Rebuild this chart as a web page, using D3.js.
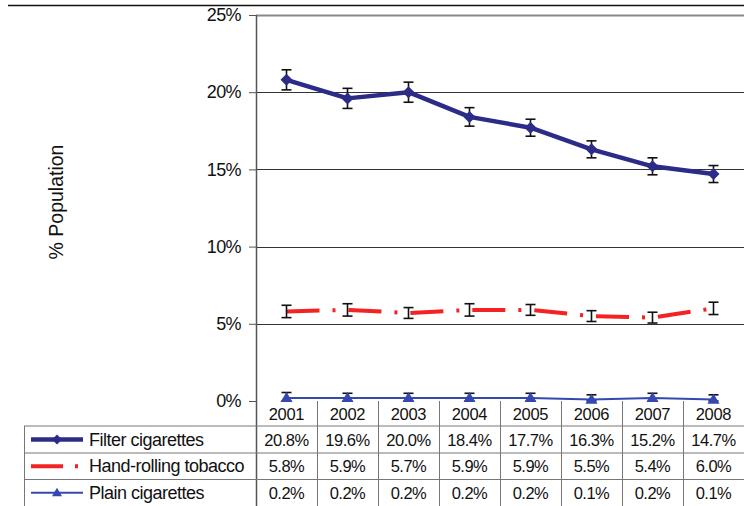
<!DOCTYPE html>
<html>
<head>
<meta charset="utf-8">
<script src="https://cdn.jsdelivr.net/npm/d3@7"></script>
<style>
  body { margin: 0; background: #fff; }
  svg { display: block; font-family: "Liberation Sans", Arial, sans-serif; }
</style>
</head>
<body>
<svg id="chart" width="744" height="506"></svg>
<script>
const years = ['2001', '2002', '2003', '2004', '2005', '2006', '2007', '2008']
const filterVals = [20.8, 19.6, 20.0, 18.4, 17.7, 16.3, 15.2, 14.7]
const handVals = [5.8, 5.9, 5.7, 5.9, 5.9, 5.5, 5.4, 6.0]
const plainVals = [0.2, 0.2, 0.2, 0.2, 0.2, 0.1, 0.2, 0.1]
const filterErr = [0.65, 0.65, 0.65, 0.6, 0.55, 0.55, 0.55, 0.55]
const handErr = [0.4, 0.4, 0.35, 0.4, 0.35, 0.35, 0.35, 0.4]
const plainErr = [0.35, 0.3, 0.3, 0.3, 0.3, 0.3, 0.3, 0.3]
const yTicks = [0, 5, 10, 15, 20, 25]

const series = [
  { name: 'Filter cigarettes', values: filterVals, err: filterErr, color: '#2c2c88', width: 4.5, dash: null, marker: 'diamond' },
  { name: 'Hand-rolling tobacco', values: handVals, err: handErr, color: '#f42222', width: 4, dash: '33,13,3,13', marker: null },
  { name: 'Plain cigarettes', values: plainVals, err: plainErr, color: '#3548b0', width: 2, dash: null, marker: 'triangle' }
]

const svg = d3.select('#chart')
const plotLeft = 256
const plotRight = 744
const plotTop = 15
const plotBottom = 401
const rowEdges = [401, 426, 453, 479.5, 506]

const x = d3.scaleBand().domain(years).range([plotLeft, plotRight])
const y = d3.scaleLinear().domain([0, 25]).range([plotBottom, plotTop])
const cx = d => x(d) + x.bandwidth() / 2

// top border line
svg.append('line')
  .attr('x1', 8).attr('x2', 744).attr('y1', 5.5).attr('y2', 5.5)
  .attr('stroke', '#111').attr('stroke-width', 1.5)

// gridlines
svg.append('g').selectAll('line').data(yTicks.filter(t => t > 0)).join('line')
  .attr('x1', plotLeft).attr('x2', plotRight)
  .attr('y1', d => Math.round(y(d)) + 0.5).attr('y2', d => Math.round(y(d)) + 0.5)
  .attr('stroke', d => d === 25 ? '#888' : '#333').attr('stroke-width', d => d === 25 ? 2 : 1)

// y axis
const yAxis = d3.axisLeft(y).tickValues(yTicks).tickFormat(d => d + '%').tickSize(7).tickPadding(8)
const ga = svg.append('g').attr('transform', `translate(${plotLeft},0)`).call(yAxis)
ga.select('.domain').remove()
ga.selectAll('.tick line').attr('stroke', '#555')
ga.selectAll('.tick text').attr('font-size', 18).attr('fill', '#111')
  .attr('letter-spacing', -0.6)
  .attr('font-family', '"Liberation Sans", Arial, sans-serif')

svg.append('line')
  .attr('x1', plotLeft + 0.5).attr('x2', plotLeft + 0.5).attr('y1', plotTop).attr('y2', 506)
  .attr('stroke', '#555').attr('stroke-width', 1.5)

svg.append('text')
  .attr('transform', 'translate(63,202) rotate(-90)')
  .attr('text-anchor', 'middle')
  .attr('font-size', 19.5).attr('fill', '#111')
  .text('% Population')

// data table grid
const tbl = svg.append('g').attr('stroke', '#777').attr('stroke-width', 1)
rowEdges.slice(1, 4).forEach(ry => {
  tbl.append('line').attr('x1', 24).attr('x2', plotRight).attr('y1', ry).attr('y2', ry)
})
tbl.append('line').attr('x1', 24.5).attr('x2', 24.5).attr('y1', rowEdges[1]).attr('y2', 506)
years.forEach((yr, i) => {
  if (i === 0) return
  tbl.append('line').attr('x1', x(yr) + 0.5).attr('x2', x(yr) + 0.5).attr('y1', rowEdges[0]).attr('y2', 506)
})

// year header
svg.append('g').selectAll('text').data(years).join('text')
  .attr('x', d => cx(d)).attr('y', (rowEdges[0] + rowEdges[1]) / 2 + 6)
  .attr('text-anchor', 'middle').attr('font-size', 16.5).attr('fill', '#111')
  .attr('letter-spacing', -0.3)
  .text(d => d)

const drawMarker = (g, type, px, py, color, s) => {
  if (type === 'diamond') {
    g.append('path')
      .attr('d', `M${px},${py - s}L${px + s},${py}L${px},${py + s}L${px - s},${py}Z`)
      .attr('fill', color)
  } else if (type === 'triangle') {
    g.append('path')
      .attr('d', `M${px},${py - s}L${px + s},${py + s * 0.7}L${px - s},${py + s * 0.7}Z`)
      .attr('fill', color)
  }
}

// table rows with legend
series.forEach((s, si) => {
  const y0 = rowEdges[si + 1]
  const y1 = rowEdges[si + 2]
  const my = (y0 + y1) / 2
  const lg = svg.append('g')
  lg.append('line')
    .attr('x1', 31).attr('x2', 83).attr('y1', my).attr('y2', my)
    .attr('stroke', s.color).attr('stroke-width', s.width)
    .attr('stroke-dasharray', s.dash ? '32,12,3,12' : null)
  if (s.marker) drawMarker(lg, s.marker, 57, my, s.color, 5)
  lg.append('text')
    .attr('x', 89).attr('y', my + 6)
    .attr('font-size', 18).attr('fill', '#111')
    .attr('letter-spacing', -0.5)
    .text(s.name)
  svg.append('g').selectAll('text').data(s.values).join('text')
    .attr('x', (d, i) => cx(years[i])).attr('y', my + 6)
    .attr('text-anchor', 'middle').attr('font-size', 16.5).attr('fill', '#111')
    .attr('letter-spacing', -0.5)
    .text(d => d.toFixed(1) + '%')
})

// lines, error bars, markers
const line = d3.line().x((d, i) => cx(years[i])).y(d => y(d))
series.slice().reverse().forEach(s => {
  const g = svg.append('g')
  g.append('path')
    .attr('d', line(s.values))
    .attr('fill', 'none')
    .attr('stroke', s.color)
    .attr('stroke-width', s.width)
    .attr('stroke-linejoin', 'round')
    .attr('stroke-dasharray', s.dash)
  s.values.forEach((v, i) => {
    const px = cx(years[i])
    const eTop = y(v + s.err[i])
    const eBot = Math.min(y(v - s.err[i]), plotBottom)
    const eb = g.append('g').attr('stroke', '#111').attr('stroke-width', 1.6)
    eb.append('line').attr('x1', px).attr('x2', px).attr('y1', eTop).attr('y2', eBot)
    eb.append('line').attr('x1', px - 5).attr('x2', px + 5).attr('y1', eTop).attr('y2', eTop)
    eb.append('line').attr('x1', px - 5).attr('x2', px + 5).attr('y1', eBot).attr('y2', eBot)
    if (s.marker) drawMarker(g, s.marker, px, y(v), s.color, 6)
  })
})
</script>
</body>
</html>
